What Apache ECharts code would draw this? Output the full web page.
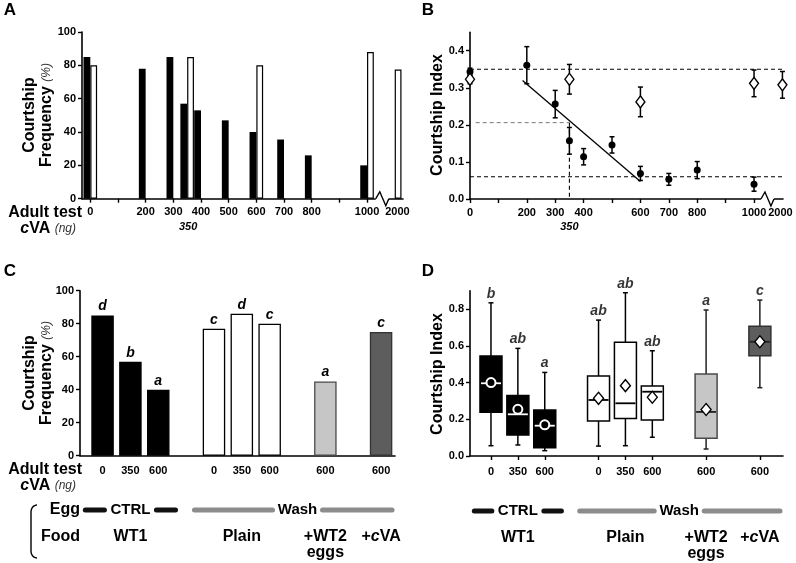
<!DOCTYPE html>
<html><head><meta charset="utf-8">
<script src="https://cdn.jsdelivr.net/npm/echarts@6/dist/echarts.min.js"></script>
<style>html,body{margin:0;padding:0;background:#fff}#c{width:796px;height:563px}</style>
</head><body><div id="c"></div>
<script>
const FONT = '"Liberation Sans", Arial, Helvetica, sans-serif';

// ---------- Panel A : courtship frequency vs cVA dose ----------
const dosesA = [0, 200, 300, 350, 400, 500, 600, 700, 800, 1000, 2000];
const freqCtrlA = [85, 78, 85, 57, 53, 47, 40, 35.5, 26, 20, null];
const freqWashA = [80, null, null, 85, null, null, 80, null, null, 88, 77.5];
const tickLabelsA = [0, 200, 300, 400, 500, 600, 700, 800, 1000, 2000];

// ---------- Panel B : courtship index (mean ± SEM) ----------
const dosesCtrlB = [0, 200, 300, 350, 400, 500, 600, 700, 800, 1000];
const ciCtrlB   = [0.343, 0.361, 0.256, 0.157, 0.114, 0.146, 0.069, 0.053, 0.078, 0.040];
const semCtrlB  = [0.010, 0.050, 0.037, 0.036, 0.022, 0.022, 0.019, 0.016, 0.023, 0.019];
const dosesWashB = [0, 350, 600, 1000, 2000];
const ciWashB    = [0.323, 0.323, 0.262, 0.312, 0.308];
const semWashB   = [0.012, 0.040, 0.040, 0.036, 0.036];
const fitLineB   = [[185, 0.32], [600, 0.047]];
const refHighB = 0.35, refMidB = 0.206, refLowB = 0.06, threshDoseB = 350;
const tickLabelsB = [0, 200, 300, 400, 600, 700, 800, 1000, 2000];

// ---------- Panels C & D ----------
const treatmentsCD = ['WT1', 'WT1', 'WT1', 'Plain', 'Plain', 'Plain', '+WT2 eggs', '+cVA'];
const dosesCD = ['0', '350', '600', '0', '350', '600', '600', '600'];
const freqC = [85, 57, 40, 77, 86, 80, 45, 75];
const lettersC = ['d', 'b', 'a', 'c', 'd', 'c', 'a', 'c'];
const boxMinD = [0.056, 0.060, 0.029, 0.054, 0.056, 0.102, 0.038, 0.372];
const boxQ1D  = [0.238, 0.114, 0.045, 0.190, 0.204, 0.196, 0.096, 0.546];
const boxMedD = [0.396, 0.227, 0.165, 0.305, 0.287, 0.350, 0.240, 0.622];
const boxQ3D  = [0.544, 0.330, 0.250, 0.435, 0.619, 0.381, 0.446, 0.707];
const boxMaxD = [0.834, 0.586, 0.455, 0.740, 0.889, 0.573, 0.795, 0.849];
const meanD   = [0.400, 0.254, 0.170, 0.314, 0.383, 0.320, 0.253, 0.622];
const lettersD = ['b', 'ab', 'a', 'ab', 'ab', 'ab', 'a', 'c'];

// ---------- helpers (scale / layout) ----------
const BREAK_POS = 1100;            // broken axis: 2000 ng drawn just after 1000
const brk = d => d > 1000 ? BREAK_POS : d;
const labelPosA = d => d > 1000 ? 1110 : d;
const slotsCD = [];
(function () { let s = 0; treatmentsCD.forEach((t, i) => { if (i > 0) s += (t === treatmentsCD[i - 1]) ? 1 : 2; slotsCD.push(s); }); })();
const TREAT_STYLE = {
  'WT1':       { fill: '#000000', stroke: '#000000', median: '#ffffff', whisker: '#000', mean: 'circle' },
  'Plain':     { fill: '#ffffff', stroke: '#000000', median: '#000000', whisker: '#000', mean: 'diamond' },
  '+WT2 eggs': { fill: '#c6c6c6', stroke: '#4a4a4a', median: '#222222', whisker: '#222', mean: 'diamond' },
  '+cVA':      { fill: '#5d5d5d', stroke: '#333333', median: '#222222', whisker: '#222', mean: 'diamond' }
};
const hundreds = Array.from({ length: 11 }, (_, i) => i * 100);

const axisLine = { show: true, onZero: false, lineStyle: { color: '#000', width: 1.6 } };
const tick = { show: true, inside: false, length: 4, lineStyle: { color: '#000', width: 1.4 } };
const lbl = { color: '#000', fontWeight: 'bold', fontSize: 11, fontFamily: FONT, hideOverlap: false };
const noSplit = { show: false };

function errRender(params, api) {
  const x = api.value(0), c = api.value(1), s = api.value(2);
  const t = api.coord([x, c + s]), b = api.coord([x, c - s]);
  const st = { stroke: '#000', lineWidth: 1.5 };
  return { type: 'group', children: [
    { type: 'line', shape: { x1: t[0], y1: t[1], x2: b[0], y2: b[1] }, style: st },
    { type: 'line', shape: { x1: t[0] - 2.5, y1: t[1], x2: t[0] + 2.5, y2: t[1] }, style: st },
    { type: 'line', shape: { x1: b[0] - 2.5, y1: b[1], x2: b[0] + 2.5, y2: b[1] }, style: st }
  ]};
}
function boxRender(params, api) {
  const st = TREAT_STYLE[treatmentsCD[params.dataIndex]];
  const x = api.value(0);
  const pMin = api.coord([x, api.value(1)]), pQ1 = api.coord([x, api.value(2)]);
  const pMed = api.coord([x, api.value(3)]), pQ3 = api.coord([x, api.value(4)]);
  const pMax = api.coord([x, api.value(5)]);
  const cx = pMin[0], hw = 11, cw = 2.5;
  const ws = { stroke: st.whisker, lineWidth: 1.5 };
  return { type: 'group', children: [
    { type: 'line', shape: { x1: cx, y1: pMax[1], x2: cx, y2: pQ3[1] }, style: ws },
    { type: 'line', shape: { x1: cx, y1: pQ1[1], x2: cx, y2: pMin[1] }, style: ws },
    { type: 'line', shape: { x1: cx - cw, y1: pMax[1], x2: cx + cw, y2: pMax[1] }, style: ws },
    { type: 'line', shape: { x1: cx - cw, y1: pMin[1], x2: cx + cw, y2: pMin[1] }, style: ws },
    { type: 'rect', shape: { x: cx - hw, y: pQ3[1], width: 2 * hw, height: pQ1[1] - pQ3[1] }, style: { fill: st.fill, stroke: st.stroke, lineWidth: 1.5 } },
    { type: 'line', shape: { x1: cx - hw + 1, y1: pMed[1], x2: cx + hw - 1, y2: pMed[1] }, style: { stroke: st.median, lineWidth: 1.8 } }
  ]};
}

const chart = echarts.init(document.getElementById('c'), null, { renderer: 'canvas' });
const option = {
  animation: false,
  backgroundColor: '#fff',
  textStyle: { fontFamily: FONT },
  grid: [
    { left: 82, top: 32, width: 321, height: 166.7 },
    { left: 470, top: 32.2, width: 313, height: 166.8 },
    { left: 80, top: 290.7, width: 315, height: 165 },
    { left: 470, top: 290.7, width: 313, height: 165.3 }
  ],
  xAxis: [
    { type: 'value', gridIndex: 0, min: -30, max: 1130, axisLine, splitLine: noSplit,
      axisTick: Object.assign({}, tick, { customValues: hundreds }),
      axisLabel: Object.assign({}, lbl, { margin: 8, customValues: tickLabelsA.map(labelPosA),
        formatter: v => { const i = tickLabelsA.findIndex(d => labelPosA(d) === v); return i < 0 ? '' : String(tickLabelsA[i]); } }) },
    { type: 'value', gridIndex: 1, min: 0, max: 1102, axisLine, splitLine: noSplit,
      axisTick: Object.assign({}, tick, { customValues: hundreds }),
      axisLabel: Object.assign({}, lbl, { margin: 8, customValues: tickLabelsB.filter(d => d <= 1000),
        formatter: v => String(v) }) },
    { type: 'value', gridIndex: 2, min: -0.81, max: 10.5, axisLine, splitLine: noSplit,
      axisTick: { show: false },
      axisLabel: Object.assign({}, lbl, { margin: 10, customValues: slotsCD,
        formatter: v => { const i = slotsCD.indexOf(v); return i < 0 ? '' : dosesCD[i]; } }) },
    { type: 'value', gridIndex: 3, min: -0.78, max: 10.86, axisLine, splitLine: noSplit,
      axisTick: Object.assign({}, tick, { customValues: slotsCD }),
      axisLabel: Object.assign({}, lbl, { margin: 10, customValues: slotsCD,
        formatter: v => { const i = slotsCD.indexOf(v); return i < 0 ? '' : dosesCD[i]; } }) }
  ],
  yAxis: [
    { type: 'value', gridIndex: 0, min: 0, max: 100, interval: 20, axisLine, axisTick: tick, splitLine: noSplit,
      axisLabel: Object.assign({}, lbl, { margin: 6 }) },
    { type: 'value', gridIndex: 1, min: 0, max: 0.45, axisLine, splitLine: noSplit,
      axisTick: Object.assign({}, tick, { customValues: [0, 0.1, 0.2, 0.3, 0.4] }),
      axisLabel: Object.assign({}, lbl, { margin: 6, customValues: [0, 0.1, 0.2, 0.3, 0.4], formatter: v => v.toFixed(1) }) },
    { type: 'value', gridIndex: 2, min: 0, max: 100, interval: 20, axisLine, axisTick: tick, splitLine: noSplit,
      axisLabel: Object.assign({}, lbl, { margin: 6 }) },
    { type: 'value', gridIndex: 3, min: 0, max: 0.9, axisLine, splitLine: noSplit,
      axisTick: Object.assign({}, tick, { customValues: [0, 0.2, 0.4, 0.6, 0.8] }),
      axisLabel: Object.assign({}, lbl, { margin: 6, customValues: [0, 0.2, 0.4, 0.6, 0.8], formatter: v => v.toFixed(1) }) }
  ],
  series: [
    // ---- A
    { type: 'bar', xAxisIndex: 0, yAxisIndex: 0, barWidth: 6.8, barGap: '0%',
      data: dosesA.map((d, i) => freqCtrlA[i] == null ? null : [brk(d), freqCtrlA[i]]).filter(Boolean),
      itemStyle: { color: '#000' } },
    { type: 'bar', xAxisIndex: 0, yAxisIndex: 0, barWidth: 6.8, barGap: '0%',
      data: dosesA.map((d, i) => freqWashA[i] == null ? null : [brk(d), freqWashA[i]]).filter(Boolean),
      itemStyle: { color: '#fff', borderColor: '#000', borderWidth: 1.2 } },
    // ---- B reference lines
    { type: 'line', xAxisIndex: 1, yAxisIndex: 1, symbol: 'none', silent: true,
      data: [[0, refHighB], [1102, refHighB]], lineStyle: { color: '#000', width: 1.1, type: [4, 3] } },
    { type: 'line', xAxisIndex: 1, yAxisIndex: 1, symbol: 'none', silent: true,
      data: [[0, refLowB], [1102, refLowB]], lineStyle: { color: '#000', width: 1.1, type: [4, 3] } },
    { type: 'line', xAxisIndex: 1, yAxisIndex: 1, symbol: 'none', silent: true,
      data: [[20, refMidB], [threshDoseB, refMidB]], lineStyle: { color: '#555', width: 0.8, type: [4, 3] } },
    { type: 'line', xAxisIndex: 1, yAxisIndex: 1, symbol: 'none', silent: true,
      data: [[threshDoseB, refMidB], [threshDoseB, 0]], lineStyle: { color: '#000', width: 1.1, type: [4, 3] } },
    { type: 'line', xAxisIndex: 1, yAxisIndex: 1, symbol: 'none', silent: true,
      data: fitLineB, lineStyle: { color: '#000', width: 1.3 } },
    // ---- B error bars + points
    { type: 'custom', xAxisIndex: 1, yAxisIndex: 1, renderItem: errRender, z: 3,
      data: dosesCtrlB.map((d, i) => [brk(d), ciCtrlB[i], semCtrlB[i]]) },
    { type: 'custom', xAxisIndex: 1, yAxisIndex: 1, renderItem: errRender, z: 3,
      data: dosesWashB.map((d, i) => [brk(d), ciWashB[i], semWashB[i]]) },
    { type: 'scatter', xAxisIndex: 1, yAxisIndex: 1, symbol: 'circle', symbolSize: 7, z: 5,
      data: dosesCtrlB.map((d, i) => [brk(d), ciCtrlB[i]]), itemStyle: { color: '#000', opacity: 1 } },
    { type: 'scatter', xAxisIndex: 1, yAxisIndex: 1, symbol: 'diamond', symbolSize: [9, 12], z: 6, clip: false,
      data: dosesWashB.map((d, i) => [brk(d), ciWashB[i]]),
      itemStyle: { color: '#fff', borderColor: '#000', borderWidth: 1.4, opacity: 1 } },
    // ---- C
    { type: 'bar', xAxisIndex: 2, yAxisIndex: 2, barWidth: 22.5,
      data: freqC.map((v, i) => {
        const st = TREAT_STYLE[treatmentsCD[i]];
        return { value: [slotsCD[i], v], itemStyle: { color: st.fill, borderColor: st.stroke, borderWidth: 1.3 } };
      }),
      label: { show: true, position: 'top', distance: 2, formatter: p => lettersC[p.dataIndex],
        fontStyle: 'italic', fontWeight: 'bold', fontSize: 14, color: '#000', fontFamily: FONT } },
    // ---- D
    { type: 'custom', xAxisIndex: 3, yAxisIndex: 3, renderItem: boxRender, z: 3,
      encode: { x: 0, y: [1, 2, 3, 4, 5] },
      data: slotsCD.map((s, i) => [s, boxMinD[i], boxQ1D[i], boxMedD[i], boxQ3D[i], boxMaxD[i]]) },
    { type: 'scatter', xAxisIndex: 3, yAxisIndex: 3, z: 6,
      data: meanD.map((m, i) => {
        const st = TREAT_STYLE[treatmentsCD[i]];
        return st.mean === 'circle'
          ? { value: [slotsCD[i], m], symbol: 'circle', symbolSize: 9, itemStyle: { color: '#000', borderColor: '#fff', borderWidth: 2, opacity: 1 } }
          : { value: [slotsCD[i], m], symbol: 'diamond', symbolSize: [10, 12], itemStyle: { color: '#fff', borderColor: '#000', borderWidth: 1.4, opacity: 1 } };
      }) },
    { type: 'scatter', xAxisIndex: 3, yAxisIndex: 3, symbolSize: 0, z: 7,
      data: boxMaxD.map((m, i) => [slotsCD[i], m]),
      label: { show: true, position: 'top', distance: 2, formatter: p => lettersD[p.dataIndex],
        fontStyle: 'italic', fontWeight: 'bold', fontSize: 14, color: '#000', fontFamily: FONT } }
  ]
};
chart.setOption(option);

// ---------- annotations positioned through the axes ----------
const px = (g, x, y) => chart.convertToPixel({ gridIndex: g }, [x, y]);
const G = [];
function text(x, y, t, o) {
  o = o || {};
  G.push({ type: 'text', x, y, rotation: o.rot || 0, z: 100, silent: true,
    style: { text: t, fill: '#000', fontFamily: FONT, fontSize: o.size || 16, fontWeight: o.weight || 'bold',
      fontStyle: o.style || 'normal',
      align: o.align || 'center', verticalAlign: o.valign || 'middle',
      textAlign: o.align || 'center', textVerticalAlign: o.valign || 'middle', rich: o.rich } });
}
const RICH = {
  b: { fontFamily: FONT, fontSize: 16, fontWeight: 'bold', fill: '#000', lineHeight: 17 },
  bi: { fontFamily: FONT, fontSize: 16, fontWeight: 'bold', fontStyle: 'italic', fill: '#000', lineHeight: 17 },
  i: { fontFamily: FONT, fontSize: 12, fontStyle: 'italic', fill: '#333', lineHeight: 17 }
};
// panel letters
text(10, 10, 'A', { size: 17 }); text(428, 10, 'B', { size: 17 });
text(10, 271, 'C', { size: 17 }); text(428, 271, 'D', { size: 17 });
// y titles
text(38, 115, '{b|Courtship}\n{b|Frequency} {i|(%)}', { rot: Math.PI / 2, rich: RICH });
text(38, 373, '{b|Courtship}\n{b|Frequency} {i|(%)}', { rot: Math.PI / 2, rich: RICH });
text(438, 115, 'Courtship Index', { rot: Math.PI / 2, size: 16 });
text(438, 374, 'Courtship Index', { rot: Math.PI / 2, size: 16 });
// x titles
[0, 2].forEach(g => {
  const y0 = px(g, 0, 0)[1];
  text(82, y0 + 14, 'Adult test', { align: 'right' });
  text(76, y0 + 30, '{bi|c}{b|VA} {i|(ng)}', { align: 'right', rich: RICH });
});
// 2000 tick label of B, after the break (crowded next to 1000)
{
  const p = px(1, brk(2000), 0);
  text(p[0] - 2, p[1] + 14, String(tickLabelsB[tickLabelsB.length - 1]), { size: 11 });
}
// italic 350 below the dose axes
[0, 1].forEach(g => {
  const p = px(g, threshDoseB, 0);
  text(p[0] + (g === 0 ? 1 : 0), p[1] + 28, '350', { size: 11, style: 'italic' });
});
// axis breaks (zigzag)
[[0, 1057], [1, 1049]].forEach(([g, v]) => {
  const p = px(g, v, 0);
  G.push({ type: 'rect', z: 90, silent: true, shape: { x: p[0] - 7, y: p[1] - 2, width: 13, height: 4 }, style: { fill: '#fff' } });
  G.push({ type: 'polyline', z: 91, silent: true,
    shape: { points: [[p[0] - 7, p[1]], [p[0] - 3, p[1] - 7], [p[0] + 3, p[1] + 7], [p[0] + 6, p[1]]] },
    style: { stroke: '#000', lineWidth: 1.4, fill: null } });
});
// treatment annotation rows under C and D
function segment(x1, x2, y, color) {
  G.push({ type: 'line', z: 95, silent: true, shape: { x1, y1: y, x2, y2: y },
    style: { stroke: color, lineWidth: 5, lineCap: 'round' } });
}
function bracketPoints(x0, xIn, y0, y1, r) {
  const top = [], bot = [];
  for (let k = 0; k <= 8; k++) { const a = Math.PI / 2 * k / 8; top.push([xIn + (1 - Math.cos(a)) * (x0 - xIn), y0 + r - r * Math.sin(a)]); }
  top.reverse();
  for (let k = 0; k <= 8; k++) { const a = Math.PI / 2 * k / 8; bot.push([xIn + (1 - Math.cos(a)) * (x0 - xIn), y1 - r + r * Math.sin(a)]); }
  return top.concat(bot);
}
[[2, 510], [3, 511]].forEach(([g, ey]) => {
  const X = s => px(g, s, 0)[0];
  const fy = ey + 27;
  const cC = X(1);
  segment(X(-0.62), cC - 26, ey, '#111'); segment(cC + 26, X(2.62), ey, '#111');
  text(cC, ey, 'CTRL', { size: 15 });
  const cW = X(7), xEnd = X(g === 2 ? 10.5 : 10.86) - 3;
  segment(X(3.3), cW - 25, ey, '#8c8c8c'); segment(cW + 25, xEnd, ey, '#8c8c8c');
  text(cW, ey, 'Wash', { size: 15 });
  const uniq = [...new Set(treatmentsCD)];
  uniq.forEach(t => {
    const idx = treatmentsCD.map((tt, i) => tt === t ? slotsCD[i] : null).filter(v => v != null);
    const c = X((idx[0] + idx[idx.length - 1]) / 2);
    if (t === '+WT2 eggs') { text(c, fy, '+WT2'); text(c, fy + 16, 'eggs'); }
    else if (t === '+cVA') text(c, fy, '{b|+}{bi|c}{b|VA}', { rich: RICH });
    else text(c, fy, t);
  });
  if (g === 2) {
    text(80, ey, 'Egg', { align: 'right' });
    text(80, fy, 'Food', { align: 'right' });
    G.push({ type: 'polyline', z: 95, silent: true,
      shape: { points: bracketPoints(37, 31, 505, 558, 7) },
      style: { stroke: '#000', lineWidth: 1.4, fill: null } });
  }
});
chart.setOption({ graphic: G });
</script>
</body></html>
